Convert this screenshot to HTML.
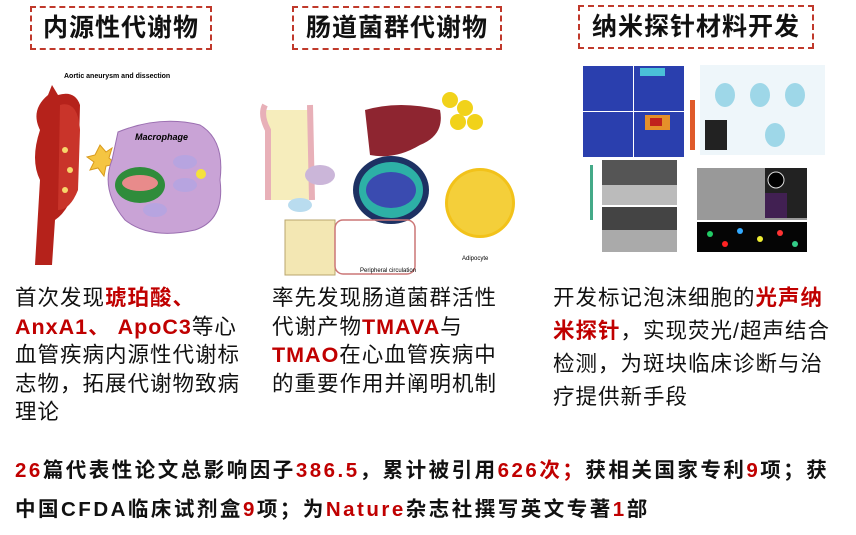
<!DOCTYPE html>
<html><head><meta charset="utf-8"><style>
body{margin:0;width:856px;height:535px;background:#fff;position:relative;overflow:hidden;font-family:"Liberation Sans","Noto Sans CJK SC",sans-serif;color:#111}
.h{position:absolute;border:2px dashed #c0392b;font-size:25px;font-weight:bold;text-align:center;line-height:40px;height:40px;box-sizing:content-box;letter-spacing:1px}
.p{position:absolute;font-size:21.5px;letter-spacing:1px}
.r{color:#c00000;font-weight:bold}
.b{position:absolute;left:15px;font-size:20.5px;font-weight:bold;letter-spacing:2.5px;white-space:nowrap}
</style></head><body>
<div class="h" style="left:30px;top:6px;width:178px">内源性代谢物</div>
<div class="h" style="left:292px;top:6px;width:206px">肠道菌群代谢物</div>
<div class="h" style="left:578px;top:5px;width:232px">纳米探针材料开发</div>

<svg style="position:absolute;left:0;top:60px" width="856" height="220">
<!-- left -->
<text x="64" y="18" font-size="7" font-family="Liberation Sans" font-weight="bold">Aortic aneurysm and dissection</text>
<path d="M35 205 L40 120 Q30 100 40 70 Q30 50 48 35 L52 25 L58 35 Q75 30 80 45 L78 120 Q70 150 55 160 L52 205 Z" fill="#b5221b"/>
<path d="M60 45 Q78 40 80 70 L78 130 Q70 150 58 150 Z" fill="#c9342a"/>
<circle cx="65" cy="90" r="3" fill="#f6d66a"/><circle cx="70" cy="110" r="3" fill="#f6d66a"/><circle cx="65" cy="130" r="3" fill="#f6d66a"/>
<polygon points="95,95 100,85 106,92 112,88 109,98 116,104 106,106 104,116 98,108 90,110 94,102 87,97" fill="#f5c542" stroke="#d99a1c"/>
<path d="M118 72 Q160 55 200 65 Q225 80 220 120 Q225 160 195 170 Q150 180 125 160 Q100 130 112 100 Z" fill="#c9a3d6" stroke="#9b6fb1"/>
<text x="135" y="80" font-size="9" font-style="italic" font-weight="bold" font-family="Liberation Sans">Macrophage</text>
<ellipse cx="140" cy="125" rx="25" ry="18" fill="#2f8c3b"/><ellipse cx="140" cy="123" rx="18" ry="8" fill="#e88b8b"/>
<ellipse cx="185" cy="102" rx="12" ry="7" fill="#b7a4e0"/><ellipse cx="185" cy="125" rx="12" ry="7" fill="#b7a4e0"/><ellipse cx="155" cy="150" rx="12" ry="7" fill="#b7a4e0"/>
<circle cx="201" cy="114" r="5" fill="#f5e23a"/>
<!-- middle -->
<rect x="265" y="50" width="45" height="90" fill="#f2e6a0" opacity=".7"/>
<path d="M265 45 Q260 55 268 70 L268 140 M310 45 L312 140" stroke="#e8b0b8" stroke-width="6" fill="none"/>
<path d="M365 50 Q400 40 440 50 Q445 75 420 85 Q395 100 370 95 Z" fill="#8e2530"/>
<circle cx="450" cy="40" r="8" fill="#f1d21a"/><circle cx="465" cy="48" r="8" fill="#f1d21a"/><circle cx="458" cy="62" r="8" fill="#f1d21a"/><circle cx="475" cy="62" r="8" fill="#f1d21a"/>
<ellipse cx="391" cy="130" rx="38" ry="34" fill="#1d3163"/><ellipse cx="391" cy="130" rx="32" ry="28" fill="#2db0a6"/><ellipse cx="391" cy="130" rx="25" ry="18" fill="#3a4bb0"/>
<circle cx="480" cy="143" r="35" fill="#f2c21a"/><circle cx="480" cy="143" r="32" fill="#f4cf3a"/>
<rect x="285" y="160" width="50" height="55" fill="#f3e7b3" stroke="#b8a56c"/>
<ellipse cx="300" cy="145" rx="12" ry="7" fill="#b9dcef"/><ellipse cx="320" cy="115" rx="15" ry="10" fill="#cbb6d9"/>
<rect x="335" y="160" width="80" height="54" rx="8" fill="none" stroke="#c77" stroke-width="1.5"/>
<text x="360" y="212" font-size="6" font-family="Liberation Sans">Peripheral circulation</text>
<text x="462" y="200" font-size="6" font-family="Liberation Sans">Adipocyte</text>
<!-- right -->
<rect x="583" y="6" width="50" height="45" fill="#2a3fae"/><rect x="634" y="6" width="50" height="45" fill="#2a3fae"/>
<rect x="583" y="52" width="50" height="45" fill="#2a3fae"/><rect x="634" y="52" width="50" height="45" fill="#2a3fae"/>
<rect x="645" y="55" width="25" height="15" fill="#e5902a"/><rect x="650" y="58" width="12" height="8" fill="#c0221d"/>
<rect x="640" y="8" width="25" height="8" fill="#4ac0d8"/>
<rect x="690" y="40" width="5" height="50" fill="#e05a2a"/>
<rect x="700" y="5" width="125" height="90" fill="#eef6fa"/>
<ellipse cx="725" cy="35" rx="10" ry="12" fill="#9ed7e8"/><ellipse cx="760" cy="35" rx="10" ry="12" fill="#9ed7e8"/><ellipse cx="795" cy="35" rx="10" ry="12" fill="#9ed7e8"/><ellipse cx="775" cy="75" rx="10" ry="12" fill="#9ed7e8"/>
<rect x="705" y="60" width="22" height="30" fill="#222"/>
<rect x="602" y="100" width="75" height="45" fill="#555"/><rect x="602" y="125" width="75" height="20" fill="#bbb"/>
<rect x="602" y="147" width="75" height="45" fill="#444"/><rect x="602" y="170" width="75" height="22" fill="#aaa"/>
<rect x="590" y="105" width="3" height="55" fill="#4a8"/>
<rect x="697" y="108" width="110" height="52" fill="#999"/><rect x="765" y="108" width="22" height="25" fill="#222"/><circle cx="776" cy="120" r="8" fill="#000" stroke="#ddd"/>
<rect x="787" y="108" width="20" height="50" fill="#222"/><rect x="765" y="133" width="22" height="25" fill="#412052"/>
<rect x="697" y="162" width="110" height="30" fill="#050505"/>
<circle cx="710" cy="174" r="3" fill="#2c6"/><circle cx="725" cy="184" r="3" fill="#f22"/><circle cx="740" cy="171" r="3" fill="#3af"/><circle cx="760" cy="179" r="3" fill="#ee3"/><circle cx="780" cy="173" r="3" fill="#f33"/><circle cx="795" cy="184" r="3" fill="#3c8"/>
</svg>

<div class="p" style="left:15px;top:284px;line-height:28.5px;width:240px">首次发现<span class="r">琥珀酸、<br>AnxA1、 ApoC3</span>等心<br>血管疾病内源性代谢标<br>志物，拓展代谢物致病<br>理论</div>
<div class="p" style="left:272px;top:284px;line-height:28.5px;width:250px">率先发现肠道菌群活性<br>代谢产物<span class="r">TMAVA</span>与<br><span class="r">TMAO</span>在心血管疾病中<br>的重要作用并阐明机制</div>
<div class="p" style="left:553px;top:282px;line-height:33px;width:300px">开发标记泡沫细胞的<span class="r">光声纳<br>米探针</span>，实现荧光/超声结合<br>检测，为斑块临床诊断与治<br>疗提供新手段</div>
<div class="b" style="top:453px"><span class="r">26</span>篇代表性论文总影响因子<span class="r">386.5</span>，累计被引用<span class="r">626次；</span>获相关国家专利<span class="r">9</span>项；获</div>
<div class="b" style="top:492px">中国CFDA临床试剂盒<span class="r">9</span>项；为<span class="r">Nature</span>杂志社撰写英文专著<span class="r">1</span>部</div>
</body></html>
